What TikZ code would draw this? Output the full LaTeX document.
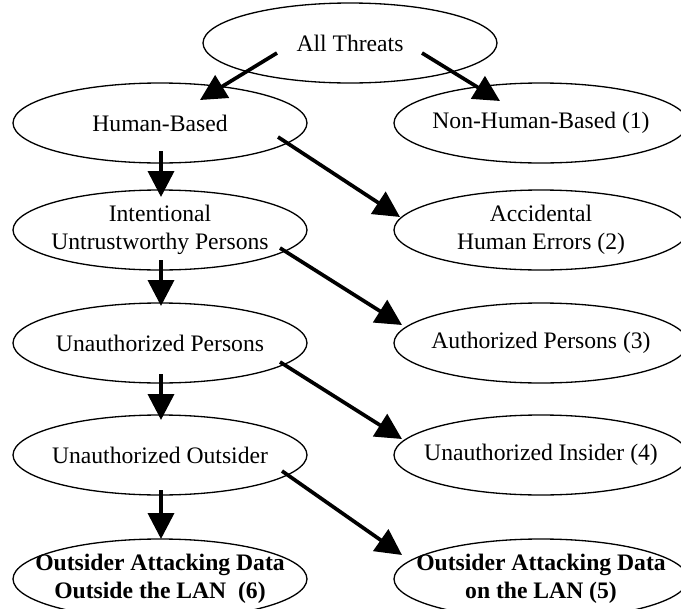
\documentclass[tikz,border=0pt]{standalone}
\usepackage{fontspec}
\setmainfont{Liberation Serif}
\usetikzlibrary{shapes.geometric,arrows.meta}

\begin{document}
\begin{tikzpicture}[x=0.02cm, y=-0.02cm, ->, >={Triangle[length=5.2mm,width=5.2mm]}, line width=2.1pt,
    threat node/.style={ellipse,draw,line width=0.75pt,minimum width=5.88cm,minimum height=1.6cm,inner sep=0pt,
        label={[align=center,font=\fontsize{13.45}{16}\selectfont]center:#1}},
    leaf node/.style={ellipse,draw,line width=0.75pt,minimum width=5.88cm,minimum height=1.6cm,inner sep=0pt,
        label={[align=center,font=\fontsize{13.45}{16}\selectfont\bfseries]center:#1}}]
    \clip (0,0) rectangle (681,609);

    \node[threat node={All Threats}] (all) at (350,43) {};
    \node[threat node={Human-Based}] (hb) at (160,123) {};
    \node[threat node={Non-Human-Based (1)}] (nhb) at (541,123) {};
    \node[threat node={Intentional\\Untrustworthy Persons}] (iup) at (160,230) {};
    \node[threat node={Accidental\\Human Errors (2)}] (ahe) at (541,230) {};
    \node[threat node={Unauthorized Persons}] (up) at (160,343) {};
    \node[threat node={Authorized Persons (3)}] (ap) at (541,343) {};
    \node[threat node={Unauthorized Outsider}] (uo) at (160,455) {};
    \node[threat node={Unauthorized Insider (4)}] (ui) at (541,455) {};
    \node[leaf node={Outsider Attacking Data\\Outside the LAN~ (6)}] (oout) at (160,579) {};
    \node[leaf node={Outsider Attacking Data\\on the LAN (5)}] (olan) at (541,579) {};

    \path[->]
        ([shift={(-73,10)}]all.center) edge ([shift={(40,-23)}]hb.center)
        ([shift={(72,10)}]all.center) edge ([shift={(-41,-22)}]nhb.center)
        ([shift={(1,28)}]hb.center) edge ([shift={(1,-33)}]iup.center)
        ([shift={(118,14)}]hb.center) edge ([shift={(-141,-13)}]ahe.center)
        ([shift={(1,30)}]iup.center) edge ([shift={(1,-37)}]up.center)
        ([shift={(120,18)}]iup.center) edge ([shift={(-139,-18)}]ap.center)
        ([shift={(1,31)}]up.center) edge ([shift={(1,-35)}]uo.center)
        ([shift={(120,19)}]up.center) edge ([shift={(-139,-16)}]ui.center)
        ([shift={(1,35)}]uo.center) edge ([shift={(1,-40)}]oout.center)
        ([shift={(122,16)}]uo.center) edge ([shift={(-139,-24)}]olan.center);
\end{tikzpicture}
\end{document}
